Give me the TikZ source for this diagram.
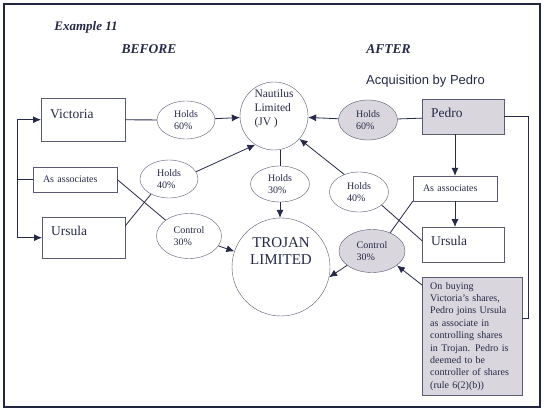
\documentclass[tikz,border=0pt]{standalone}
\usepackage{fontspec}
\setmainfont{Liberation Serif}
\newfontfamily\arialfont{Liberation Sans}
\usetikzlibrary{arrows.meta,shapes,positioning}

\definecolor{ink}{RGB}{38,41,72}
\definecolor{edgegrey}{RGB}{88,90,118}
\definecolor{shade}{RGB}{217,214,221}
\definecolor{framec}{RGB}{34,37,62}

\begin{document}
\begin{tikzpicture}[x=1pt, y=-1pt, color=ink,
    party/.style={draw=edgegrey, rectangle, anchor=north west, inner xsep=9pt, inner ysep=0pt,
      align=left, font=\fontsize{13.5}{16}\selectfont},
    assoc/.style={draw=edgegrey, rectangle, minimum width=84pt, minimum height=25pt, inner xsep=10pt,
      text width=64pt, align=left, font=\fontsize{10}{12}\selectfont},
    stake/.style={ellipse, draw=edgegrey, inner sep=0pt, align=left, font=\fontsize{10}{11.5}\selectfont},
    company/.style={circle, draw=edgegrey, inner sep=0pt},
    shaded/.style={fill=shade},
    link/.style={line width=0.8pt},
    arrow/.style={link, -{Latex[length=8pt,width=7pt]}}]
  \useasboundingbox (0,0) rectangle (544,412);
  \fill[white] (0,0) rectangle (544,412);
  \draw[framec, line width=1.8pt] (4,4) rectangle (540,407);

  % titles
  \node[font=\bfseries\itshape\fontsize{13}{15}\selectfont] (example) at (86,27) {Example 11};
  \node[font=\bfseries\itshape\fontsize{13.5}{16}\selectfont] (before) at (149,49.5) {BEFORE};
  \node[font=\bfseries\itshape\fontsize{13.5}{16}\selectfont] (after) at (388.5,49.5) {AFTER};
  \node[font=\arialfont\fontsize{13}{15}\selectfont] (acq) at (425.5,81) {Acquisition by Pedro};

  % companies
  \node[company, minimum size=68pt] (naut) at (274,116) {};
  \node[align=left, font=\fontsize{11.5}{14}\selectfont] (nautname) at ([yshift=7pt]naut.center) {Nautilus\\Limited\\(JV )};
  \node[company, minimum size=98pt] (trojan) at (281,267) {};
  \node[align=center, font=\fontsize{15}{17}\selectfont] (trojanname) at ([yshift=16pt]trojan.center) {TROJAN\\LIMITED};

  % before
  \node[party, text width=66pt, text height=20pt, text depth=23pt] (vic) at (41,98) {Victoria};
  \node[party, text width=65pt, text height=18pt, text depth=23pt] (ursL) at (42,217) {Ursula};
  \node[assoc] (assocL) at (75,179.5) {As associates};
  \node[stake, minimum width=58pt, minimum height=38pt] (h60L) at (186,120) {Holds\\60\%};
  \node[stake, minimum width=58pt, minimum height=38pt] (h40L) at (169,179) {Holds\\40\%};
  \node[stake, minimum width=59pt, minimum height=36pt] (h30) at (280,184) {Holds\\30\%};
  \node[stake, minimum width=65pt, minimum height=45pt] (c30L) at (189,236) {Control\\30\%};

  % after
  \node[party, shaded, text width=64pt, text height=18pt, text depth=17pt] (pedro) at (422,99) {Pedro};
  \node[party, text width=64pt, text height=18pt, text depth=17pt] (ursR) at (422,227) {Ursula};
  \node[assoc] (assocR) at (455,188.5) {As associates};
  \node[stake, shaded, minimum width=59pt, minimum height=40pt] (h60R) at (368,120) {Holds\\60\%};
  \node[stake, minimum width=59pt, minimum height=40pt] (h40R) at (359,192) {Holds\\40\%};
  \node[stake, shaded, minimum width=66pt, minimum height=43pt] (c30R) at (372,251) {Control\\30\%};
  \node[draw=edgegrey, shaded, anchor=north west, text width=84pt, inner xsep=8pt, minimum height=118pt,
    align=left, font=\fontsize{10}{12.4}\selectfont] (note) at (422,277)
    {On buying\\Victoria's shares,\\Pedro joins Ursula\\as associate in\\controlling shares\\in Trojan. Pedro is\\deemed to be\\controller of shares\\(rule 6(2)(b))};

  \coordinate (brk) at (17,0);
  \coordinate (rgt) at (528,0);

  % before connectors
  \path[link]
    (vic) edge (h60L)
    ([yshift=12pt]ursL.east) edge (h40L.220)
    (assocL.east) edge (c30L.146)
    (naut.south -| h30) edge (h30);
  \path[arrow]
    (h60L) edge (naut)
    (h40L.15) edge (naut.237)
    (h30) edge (h30 |- trojan.north)
    (c30L) edge (trojan);
  \draw[arrow] (assocL.west) -- (assocL.west -| brk) |- (vic.west);
  \draw[arrow] (assocL.west -| brk) |- (ursL.west);

  % after connectors
  \path[link]
    (pedro) edge (h60R)
    (h40R.-30) edge ([yshift=4pt]ursR.west)
    (assocR.south west) edge (c30R.45);
  \path[arrow]
    (h60R) edge (naut)
    (h40R.130) edge (naut.-42)
    (assocR |- pedro.south) edge (assocR)
    (assocR) edge (assocR |- ursR.north)
    (c30R.210) edge (trojan.-12)
    ([yshift=-8pt]note.north west) edge (c30R.-30);
  \draw[link] (pedro.east) -- (pedro.east -| rgt) |- ([yshift=18pt]note.east);
\end{tikzpicture}
\end{document}
